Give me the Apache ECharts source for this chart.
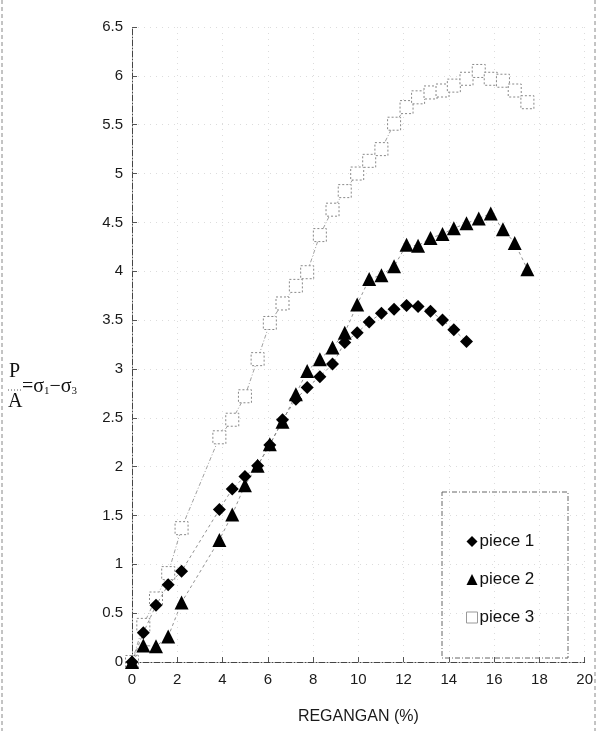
<!DOCTYPE html>
<html>
<head>
<meta charset="utf-8">
<script src="https://cdn.jsdelivr.net/npm/echarts@6/dist/echarts.min.js"></script>
<style>
  html, body { margin: 0; padding: 0; background: #fff; }
  #chart { width: 596px; height: 731px; }
</style>
</head>
<body>
<div id="chart"></div>
<script>
// Strain (%) readings shared by the three specimens
const strain = [0, 0.5, 1.06, 1.6, 2.19, 3.86, 4.43, 4.99, 5.55, 6.09, 6.65, 7.24, 7.74, 8.3,
  8.86, 9.4, 9.95, 10.48, 11.02, 11.58, 12.13, 12.64, 13.19, 13.72, 14.22, 14.78,
  15.32, 15.85, 16.39, 16.91, 17.47];

// Deviator stress P/A for each specimen
const piece1 = [0, 0.30, 0.58, 0.79, 0.93, 1.56, 1.77, 1.90, 2.01, 2.22, 2.48, 2.69, 2.81, 2.92,
  3.05, 3.27, 3.37, 3.48, 3.57, 3.61, 3.65, 3.64, 3.59, 3.50, 3.40, 3.28];
const piece2 = [0, 0.17, 0.16, 0.26, 0.61, 1.25, 1.51, 1.81, 2.01, 2.23, 2.46, 2.74, 2.98, 3.10,
  3.22, 3.37, 3.66, 3.92, 3.96, 4.05, 4.27, 4.26, 4.34, 4.38, 4.44, 4.49,
  4.54, 4.59, 4.43, 4.29, 4.02];
const piece3 = [0, 0.38, 0.65, 0.91, 1.37, 2.30, 2.48, 2.72, 3.10, 3.47, 3.67, 3.85, 3.99, 4.37,
  4.63, 4.82, 5.00, 5.13, 5.25, 5.51, 5.68, 5.78, 5.83, 5.85, 5.90, 5.97,
  6.05, 5.97, 5.95, 5.85, 5.73];

const seriesNames = ['piece 1', 'piece 2', 'piece 3'];
const xTicks = [0, 2, 4, 6, 8, 10, 12, 14, 16, 18, 20];
const yTicks = [0, 0.5, 1, 1.5, 2, 2.5, 3, 3.5, 4, 4.5, 5, 5.5, 6, 6.5];

const pairs = vals => vals.map((v, i) => [strain[i], v]);

const chart = echarts.init(document.getElementById('chart'), null, { renderer: 'canvas' });

const axisLabelStyle = { color: '#1a1a1a', fontFamily: 'Liberation Sans, Arial, sans-serif', fontSize: 15 };
const gridLine = { show: true, lineStyle: { color: '#dcdcdc', type: [1, 5], width: 1 } };

chart.setOption({
  animation: false,
  backgroundColor: '#fff',
  grid: { left: 132, right: 11, top: 27, bottom: 69 },
  xAxis: {
    type: 'value',
    min: xTicks[0], max: xTicks[xTicks.length - 1], interval: 2,
    name: 'REGANGAN (%)',
    nameLocation: 'middle', nameGap: 47,
    nameTextStyle: { color: '#1a1a1a', fontFamily: 'Liberation Sans, Arial, sans-serif', fontSize: 16 },
    axisLine: { show: true, onZero: false, lineStyle: { color: '#444', type: [6, 2, 1, 2], width: 1 } },
    axisTick: { show: true, inside: true, length: 5, lineStyle: { color: '#555' } },
    axisLabel: Object.assign({ margin: 10 }, axisLabelStyle),
    splitLine: gridLine
  },
  yAxis: {
    type: 'value',
    min: yTicks[0], max: yTicks[yTicks.length - 1], interval: 0.5,
    axisLine: { show: true, onZero: false, lineStyle: { color: '#444', type: [6, 2, 1, 2], width: 1 } },
    axisTick: { show: true, inside: true, length: 5, lineStyle: { color: '#555' } },
    axisLabel: Object.assign({ margin: 9 }, axisLabelStyle),
    splitLine: gridLine
  },
  legend: {
    orient: 'vertical',
    left: 461, top: 528,
    itemWidth: 11, itemHeight: 11, itemGap: 21,
    textStyle: { color: '#111', fontFamily: 'Liberation Sans, Arial, sans-serif', fontSize: 17, padding: [0, 0, 0, -3] },
    data: [
      { name: seriesNames[0], icon: 'diamond' },
      { name: seriesNames[1], icon: 'triangle' },
      { name: seriesNames[2], icon: 'rect', itemStyle: { color: '#fff', borderColor: '#999', borderWidth: 1 } }
    ]
  },
  series: [
    {
      name: seriesNames[0], type: 'line', data: pairs(piece1),
      symbol: 'diamond', symbolSize: 13,
      itemStyle: { color: '#000' },
      lineStyle: { color: '#777', width: 0.8, type: [3, 3] }
    },
    {
      name: seriesNames[1], type: 'line', data: pairs(piece2),
      symbol: 'triangle', symbolSize: 14,
      itemStyle: { color: '#000' },
      lineStyle: { color: '#777', width: 0.8, type: [3, 3] }
    },
    {
      name: seriesNames[2], type: 'line', data: pairs(piece3),
      symbol: 'rect', symbolSize: 13, showAllSymbol: true,
      itemStyle: { color: '#fff', borderColor: '#888', borderWidth: 1, borderType: [2, 2] },
      lineStyle: { color: '#888', width: 0.8, type: [4, 2, 1, 2] },
      z: 1
    }
  ],
  graphic: [
    // outer frame edges
    { type: 'line', shape: { x1: 2, y1: 0, x2: 2, y2: 731 }, style: { stroke: '#888', lineDash: [4, 3], lineWidth: 1 } },
    { type: 'line', shape: { x1: 595, y1: 0, x2: 595, y2: 731 }, style: { stroke: '#888', lineDash: [4, 3], lineWidth: 1 } },
    // legend frame
    { type: 'rect', shape: { x: 442, y: 492, width: 126, height: 166 },
      style: { fill: 'rgba(0,0,0,0)', stroke: '#666', lineDash: [5, 2, 1, 2], lineWidth: 1 }, z: 5 },
    // y-axis title: P/A = sigma1 - sigma3
    { type: 'text', left: 9, top: 362,
      style: { text: 'P', font: '20px "Liberation Serif", serif', fill: '#111' } },
    { type: 'line', shape: { x1: 8, y1: 390, x2: 22, y2: 390 }, style: { stroke: '#555', lineDash: [1, 2], lineWidth: 1 } },
    { type: 'text', left: 8, top: 392,
      style: { text: 'A', font: '20px "Liberation Serif", serif', fill: '#111' } },
    { type: 'text', left: 22, top: 377,
      style: {
        rich: {
          a: { font: '20px "Liberation Serif", serif', fill: '#111' },
          s: { font: '11px "Liberation Serif", serif', fill: '#111', padding: [9, 0, 0, 0] }
        },
        text: '{a|=σ}{s|1}{a|−σ}{s|3}'
      } }
  ]
});
</script>
</body>
</html>
